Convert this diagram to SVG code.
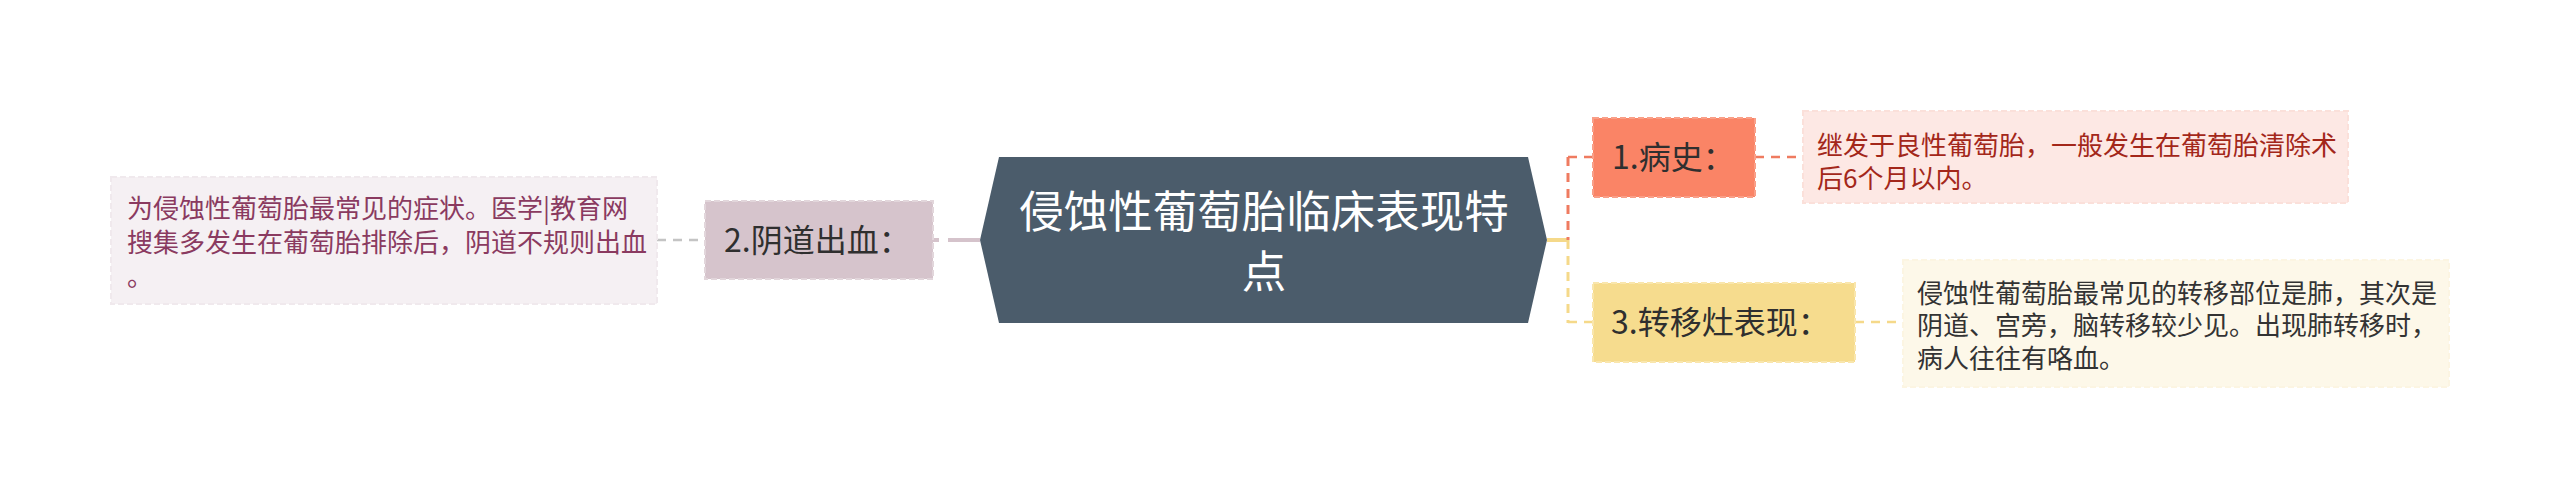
<svg xmlns="http://www.w3.org/2000/svg" width="2560" height="497" viewBox="0 0 2560 497">
<style>
text { font-family: "Noto Sans CJK SC", "Noto Sans", sans-serif; }
.title { font-size: 44.5px; fill: #ffffff; text-anchor: middle; }
.node { font-size: 32px; fill: #2f2f2f; }
.desc { font-size: 26px; }
.box { stroke-width: 2; stroke-dasharray: 6 3; }
.conn { fill: none; stroke-width: 2.5; }
</style>
<rect width="2560" height="497" fill="#ffffff"/>
<g id="connectors">
  <line x1="657" y1="240" x2="705" y2="240" stroke="#c4c4c4" class="conn" stroke-dasharray="9 7"/>
  <line x1="933" y1="240" x2="980" y2="240" stroke="#d5c3cb" stroke-width="4" stroke-dasharray="6 9 100"/>
  <line x1="1547" y1="240" x2="1568" y2="240" stroke="#f5d98a" stroke-width="4"/>
  <line x1="1568" y1="157" x2="1568" y2="240" stroke="#ef7b60" stroke-width="3" stroke-dasharray="9 7"/>
  <line x1="1568" y1="240" x2="1568" y2="323" stroke="#f5d98a" stroke-width="3" stroke-dasharray="9 7"/>
  <line x1="1568" y1="157" x2="1593" y2="157" stroke="#ef7b60" class="conn" stroke-dasharray="9 7"/>
  <line x1="1568" y1="322" x2="1593" y2="322" stroke="#f5d98a" class="conn" stroke-dasharray="9 7"/>
  <line x1="1755" y1="157" x2="1803" y2="157" stroke="#ef7b60" class="conn" stroke-dasharray="9 7"/>
  <line x1="1855" y1="322" x2="1903" y2="322" stroke="#f5d98a" class="conn" stroke-dasharray="9 7"/>
</g>
<g id="center">
  <polygon points="980,240 999,157 1528,157 1547,240 1528,323 999,323" fill="#4b5c6b"/>
  <text class="title" x="1264" y="228">侵蚀性葡萄胎临床表现特</text>
  <text class="title" x="1264" y="288">点</text>
</g>
<g id="node-bleeding">
  <rect x="705" y="201" width="228" height="78" fill="#d6c4cc" stroke="#e2d6db" class="box"/>
  <text class="node" x="724" y="252">2.阴道出血：</text>
</g>
<g id="desc-bleeding">
  <rect x="111" y="177" width="546" height="127" fill="#f5f0f3" stroke="#f0e9ed" class="box"/>
  <text class="desc" fill="#8a3a60" x="127" y="218">为侵蚀性葡萄胎最常见的症状。医学|教育网</text>
  <text class="desc" fill="#8a3a60" x="127" y="252">搜集多发生在葡萄胎排除后，阴道不规则出血</text>
  <text class="desc" fill="#8a3a60" x="127" y="286">。</text>
</g>
<g id="node-history">
  <rect x="1593" y="118" width="162" height="79" fill="#fa8466" stroke="#f99f88" class="box"/>
  <text class="node" x="1612" y="169">1.病史：</text>
</g>
<g id="desc-history">
  <rect x="1803" y="111" width="545" height="92" fill="#fde8e4" stroke="#fbe0da" class="box"/>
  <text class="desc" fill="#a3271a" x="1817" y="155">继发于良性葡萄胎，一般发生在葡萄胎清除术</text>
  <text class="desc" fill="#a3271a" x="1817" y="188">后6个月以内。</text>
</g>
<g id="node-metastasis">
  <rect x="1593" y="283" width="262" height="79" fill="#f6dc8e" stroke="#f9e6ad" class="box"/>
  <text class="node" x="1611" y="334">3.转移灶表现：</text>
</g>
<g id="desc-metastasis">
  <rect x="1903" y="260" width="546" height="127" fill="#fdf8e9" stroke="#fcf5e2" class="box"/>
  <text class="desc" fill="#333333" x="1917" y="303">侵蚀性葡萄胎最常见的转移部位是肺，其次是</text>
  <text class="desc" fill="#333333" x="1917" y="335">阴道、宫旁，脑转移较少见。出现肺转移时，</text>
  <text class="desc" fill="#333333" x="1917" y="368">病人往往有咯血。</text>
</g>
</svg>
